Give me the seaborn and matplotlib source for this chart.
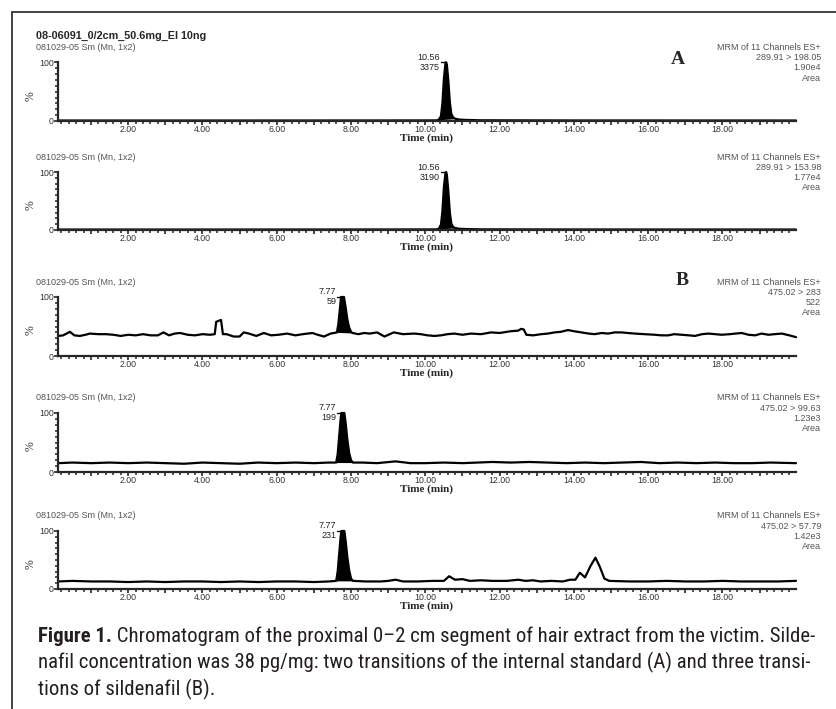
import numpy as np
import pandas as pd
import seaborn as sns
import matplotlib
matplotlib.use("Agg")
import matplotlib.pyplot as plt
from matplotlib import font_manager
from matplotlib.ticker import MultipleLocator, FixedLocator, FuncFormatter
from matplotlib.lines import Line2D

# ---------------- data ----------------
sample_name = "08-06091_0/2cm_50.6mg_EI 10ng"
run_label = "081029-05 Sm (Mn, 1x2)"
header = "MRM of 11 Channels ES+"
transitions = ["289.91 > 198.05", "289.91 > 153.98", "475.02 > 283", "475.02 > 99.63", "475.02 > 57.79"]
tic_area = ["1.90e4", "1.77e4", "522", "1.23e3", "1.42e3"]
peak_rt = [10.56, 10.56, 7.77, 7.77, 7.77]
peak_area = [3375, 3190, 59, 199, 231]
peak_window = [(10.36, 10.80), (10.36, 10.80), (7.62, 8.04), (7.60, 8.05), (7.60, 8.05)]

# IS transition 1 (289.91 > 198.05), % of max
t1 = [0.12, 2.0, 5.0, 9.0, 10.30, 10.36, 10.42, 10.46, 10.50, 10.54, 10.56, 10.58, 10.62, 10.66, 10.70,
      10.75, 10.80, 10.90, 11.1, 11.5, 14.0, 19.98]
i1 = [0.8, 0.8, 0.8, 0.9, 1.0, 2, 8, 30, 72, 97, 100, 96, 68, 32, 12,
      6, 4, 2.5, 1.8, 1.2, 0.9, 0.8]
# IS transition 2 (289.91 > 153.98)
t2 = [0.12, 2.0, 5.0, 9.0, 10.30, 10.36, 10.42, 10.46, 10.50, 10.54, 10.56, 10.58, 10.62, 10.66, 10.70,
      10.75, 10.80, 10.90, 11.1, 11.5, 14.0, 19.98]
i2 = [0.8, 0.8, 0.8, 0.9, 1.0, 2, 9, 32, 74, 97, 100, 95, 66, 30, 11,
      5, 3.5, 2.2, 1.6, 1.1, 0.9, 0.8]
# sildenafil 475.02 > 283
t3 = [0.12, 0.25, 0.43, 0.55, 0.7, 0.85, 0.97, 1.2, 1.4, 1.6, 1.8, 2.0, 2.2, 2.4, 2.6, 2.8, 2.95, 3.1,
      3.25, 3.4, 3.6, 3.8, 4.0, 4.2, 4.33, 4.37, 4.45, 4.50, 4.55, 4.65, 4.84, 5.0, 5.11, 5.25, 5.45,
      5.65, 5.85, 6.05, 6.28, 6.5, 6.7, 6.96, 7.1, 7.27, 7.45, 7.62, 7.66, 7.70, 7.73, 7.81, 7.86,
      7.90, 7.95, 8.00, 8.04, 8.2, 8.35, 8.5, 8.7, 8.9, 9.15, 9.4, 9.7, 9.88, 10.06, 10.25, 10.42,
      10.6, 10.78, 11.0, 11.23, 11.5, 11.77, 12.0, 12.3, 12.5, 12.58, 12.65, 12.72, 12.9, 13.12,
      13.3, 13.48, 13.65, 13.84, 14.0, 14.2, 14.4, 14.56, 14.75, 14.92, 15.1, 15.28, 15.45, 15.64,
      15.9, 16.18, 16.35, 16.54, 16.7, 16.9, 17.1, 17.26, 17.45, 17.62, 17.8, 17.98, 18.2, 18.35,
      18.52, 18.7, 18.88, 19.05, 19.24, 19.4, 19.6, 19.8, 19.98]
i3 = [34, 35, 41, 35, 34, 36, 38, 37, 37, 36, 34, 36, 35, 37, 35, 35, 40, 35,
      38, 39, 36, 35, 37, 36, 37, 58, 60, 61, 37, 37, 33, 33, 40, 38, 34,
      39, 35, 36, 38, 35, 37, 39, 36, 33, 38, 40, 55, 80, 100, 100, 80,
      62, 48, 41, 39, 37, 39, 38, 40, 33, 40, 37, 38, 37, 35, 34, 35,
      37, 38, 36, 38, 37, 40, 39, 42, 43, 46, 45, 36, 35, 37,
      38, 40, 41, 44, 42, 40, 38, 37, 39, 38, 40, 40, 39, 38,
      37, 36, 35, 35, 37, 36, 35, 34, 37, 38, 37, 36, 37, 38,
      39, 36, 35, 38, 36, 37, 38, 35, 32]
# sildenafil 475.02 > 99.63
t4 = [0.12, 0.5, 1.0, 1.5, 2.0, 2.5, 3.0, 3.5, 4.0, 4.5, 5.0, 5.5, 6.0, 6.5, 7.0, 7.4, 7.60, 7.64,
      7.68, 7.72, 7.74, 7.82, 7.86, 7.90, 7.95, 8.00, 8.05, 8.3, 8.7, 9.2, 9.6, 10.0, 10.5, 11.0,
      11.4, 11.8, 12.3, 12.8, 13.3, 13.8, 14.3, 14.8, 15.3, 15.8, 16.3, 16.8, 17.3, 17.8, 18.3,
      18.8, 19.3, 19.98]
i4 = [15, 16, 15, 16, 15, 16, 15, 14, 16, 15, 14, 16, 15, 16, 15, 16, 16, 30,
      60, 90, 100, 100, 80, 55, 32, 20, 16, 16, 15, 18, 15, 15, 16, 15,
      16, 17, 16, 17, 16, 15, 16, 15, 16, 17, 15, 16, 15, 16, 15,
      15, 16, 15]
# sildenafil 475.02 > 57.79
t5 = [0.12, 0.5, 1.0, 1.5, 2.0, 2.5, 3.0, 3.5, 4.0, 4.5, 5.0, 5.5, 6.0, 6.5, 7.0, 7.4, 7.60, 7.64,
      7.68, 7.72, 7.74, 7.82, 7.86, 7.90, 7.95, 8.00, 8.05, 8.4, 8.8, 9.0, 9.2, 9.4, 9.8, 10.2,
      10.5, 10.64, 10.8, 11.0, 11.2, 11.5, 11.8, 12.2, 12.5, 12.7, 12.9, 13.1, 13.4, 13.7, 13.9,
      14.04, 14.16, 14.30, 14.45, 14.58, 14.70, 14.82, 14.95, 15.5, 16.0, 16.5, 17.0, 17.5, 18.0,
      18.5, 19.0, 19.5, 19.98]
i5 = [13, 14, 13, 13, 12, 13, 12, 13, 13, 12, 13, 12, 13, 13, 12, 13, 14, 30,
      60, 90, 100, 100, 80, 55, 32, 18, 14, 13, 13, 14, 16, 13, 13, 14,
      14, 22, 16, 17, 14, 15, 14, 14, 16, 14, 15, 13, 14, 13, 16,
      16, 28, 20, 40, 54, 38, 18, 14, 13, 13, 14, 13, 13, 14,
      13, 13, 13, 14]

traces = [(t1, i1), (t2, i2), (t3, i3), (t4, i4), (t5, i5)]

# ---------------- layout (pixels of the 837x709 canvas) ----------------
W, H = 837, 709
ax_x0, ax_x1 = 58, 796
top_px = [62.3, 172, 297, 413, 531]
zero_px = [121, 230, 356, 472, 589]


def fx(x):
    return x / W


def fy(y):
    return 1 - y / H


sns.set_style("ticks")
plt.rcParams['font.family'] = ['Liberation Sans', 'DejaVu Sans']
grey = '#555555'

fig = plt.figure(figsize=(W / 100, H / 100), dpi=100)

for k, (tt, ii) in enumerate(traces):
    top, zero = top_px[k], zero_px[k]
    ax = fig.add_axes([fx(ax_x0), fy(zero), (ax_x1 - ax_x0) / W, (zero - top) / H])
    df = pd.DataFrame({'time': tt, 'pct': ii})
    sns.lineplot(data=df, x='time', y='pct', ax=ax, color='black', linewidth=1.6,
                 estimator=None, sort=False, legend=False)
    ax.lines[-1].set_clip_on(False)

    # integrated peak, filled above the drop baseline
    a, b = peak_window[k]
    t = np.array(tt)
    y = np.array(ii, dtype=float)
    m = (t >= a) & (t <= b)
    base = np.interp(t[m], [t[m][0], t[m][-1]], [y[m][0], y[m][-1]])
    ax.fill_between(t[m], base, y[m], color='black', lw=0, clip_on=False)

    # peak label
    rt = peak_rt[k]
    ax.plot([rt - 0.15, rt - 0.01], [100, 100], color='black', lw=1.0, clip_on=False)
    ax.annotate(f"{rt:.2f}", xy=(rt - 0.17, 100), xytext=(0, 3.6), textcoords='offset points',
                ha='right', va='center', fontsize=6.5, color='#222222')
    ax.annotate(f"{peak_area[k]}", xy=(rt - 0.17, 100), xytext=(0, -3.6), textcoords='offset points',
                ha='right', va='center', fontsize=6.5, color='#222222')

    ax.set_xlim(0.11, 19.98)
    ax.set_ylim(0, 100)
    ax.xaxis.set_major_locator(MultipleLocator(1))
    ax.xaxis.set_minor_locator(MultipleLocator(0.2))
    ax.xaxis.set_major_formatter(FuncFormatter(
        lambda v, p: f"{v:.2f}" if int(round(v)) % 2 == 0 and v > 0.5 else ""))
    ax.yaxis.set_major_locator(FixedLocator([0, 100]))
    ax.yaxis.set_minor_locator(MultipleLocator(10))
    ax.tick_params(axis='both', which='major', length=3.2, width=1.2, labelsize=6.3,
                   pad=0, labelcolor='#333333')
    ax.tick_params(axis='both', which='minor', length=2.2, width=1.1)
    ax.set_xlabel("")
    ax.set_ylabel("")
    sns.despine(ax=ax)
    for s in ['left', 'bottom']:
        ax.spines[s].set_linewidth(1.6)

    # texts around the panel
    fig.text(fx(36), fy(top - 15), run_label, fontsize=6.5, color=grey, va='center')
    right_lines = [header, transitions[k], tic_area[k], "Area"]
    for j, s in enumerate(right_lines):
        fig.text(fx(821), fy(top - 15 + j * 10.3), s, fontsize=6.5, color=grey,
                 ha='right', va='center')
    fig.text(fx(31), fy((top + zero) / 2 + 4), "%", rotation=90, fontsize=8.5,
             family='Liberation Serif', color='#333333', ha='center', va='center')
    fig.text(fx(427), fy(zero + 17.5), "Time (min)", fontsize=8, weight='bold',
             family='Liberation Serif', ha='center', va='center')

fig.text(fx(36), fy(35.7), sample_name, fontsize=7.8, weight='bold', va='center')
fig.text(fx(678), fy(60), "A", fontsize=14, weight='bold', family='Liberation Serif',
         ha='center', va='center')
fig.text(fx(682), fy(280), "B", fontsize=14, weight='bold', family='Liberation Serif',
         ha='center', va='center')

# frame of the figure box
fig.add_artist(Line2D([fx(12), fx(12)], [fy(12), 0], color='#333333', lw=1.3))
fig.add_artist(Line2D([fx(12), 1], [fy(12), fy(12)], color='#333333', lw=1.3))

# ---------------- caption ----------------
names = {f.name for f in font_manager.fontManager.ttflist}
cap_font = 'DejaVu Sans'
for cand in ['Liberation Sans Narrow', 'Roboto Condensed', 'Open Sans Condensed', 'Noto Sans', 'Open Sans']:
    if cand in names:
        cap_font = cand
        break

caption = [
    [("Figure 1.", 'bold'), (" Chromatogram of the proximal 0\u20132 cm segment of hair extract from the victim. Silde-", 'normal')],
    [("nafil concentration was 38 pg/mg: two transitions of the internal standard (A) and three transi-", 'normal')],
    [("tions of sildenafil (B).", 'normal')],
]
cap_y = [636, 662.5, 689]
renderer = fig.canvas.get_renderer()


def draw_caption(size):
    made = []
    widths = []
    for parts, yy in zip(caption, cap_y):
        x = fx(38)
        for txt, wt in parts:
            tx = fig.text(x, fy(yy), txt, fontsize=size, weight=wt, family=cap_font,
                          va='center', color='#231f20')
            made.append(tx)
            bb = tx.get_window_extent(renderer)
            x = bb.x1 / W
        widths.append(x * W - 38)
    return made, widths


made, widths = draw_caption(12)
size = 12 * 777 / widths[0]
for tx in made:
    tx.remove()
draw_caption(size)

fig.savefig("out.png", dpi=100)
